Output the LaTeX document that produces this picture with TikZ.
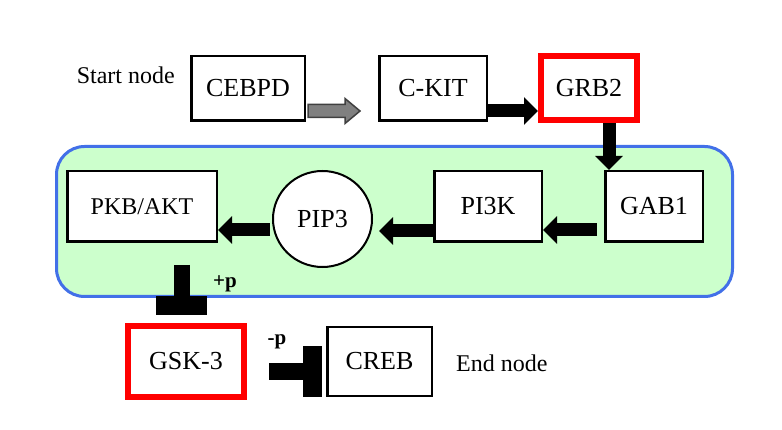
\documentclass[tikz,border=0pt]{standalone}
\usepackage{fontspec}
\setmainfont{Liberation Serif}
\usetikzlibrary{arrows.meta,positioning,calc,shapes.geometric}

\definecolor{cellgreen}{RGB}{204,255,204}
\definecolor{cellblue}{RGB}{66,112,232}

\begin{document}
\begin{tikzpicture}[
  x=1pt,y=-1pt,
  font=\fontsize{26}{30}\selectfont,
  box/.style={draw,line width=2.5pt,fill=white,inner sep=0pt,align=center},
  keybox/.style={box,draw=red,line width=6pt},
  note/.style={inner sep=0pt,font=\fontsize{24}{28}\selectfont},
  plabel/.style={font=\fontsize{21}{24}\selectfont\bfseries},
  cell/.style={draw=cellblue,fill=cellgreen,line width=3pt,rounded corners=28pt},
  act/.style={line width=13pt,-{Triangle[length=14pt,width=27pt]}},
  inhib/.style={line width=16pt,-{Rectangle[length=19pt,width=51pt]}},
  grayarrow/.style={draw=black!75,fill=black!50,line width=1.5pt,line join=miter}
]
\useasboundingbox (0,0) rectangle (782,430);
\draw[cell] (56.5,146.5) rectangle (732.5,296.5);
% top row
\node[box,minimum width=113.5pt,minimum height=64.5pt] (cebpd) at (248,88.5) {CEBPD};
\node[box,minimum width=107.5pt,minimum height=64.5pt,right=72pt of cebpd] (ckit) {C-KIT};
\node[keybox,minimum width=96pt,minimum height=64pt,right=50pt of ckit] (grb) {GRB2};
\node[note,left=15pt of cebpd,yshift=13.5pt] (start) {Start node};
% inside the cell
\node[box,minimum width=97.5pt,minimum height=70.5pt] (gab) at (654,206.5) {GAB1};
\node[box,minimum width=107.5pt,minimum height=70.5pt,left=61pt of gab] (pi3k) {PI3K};
\node[box,ellipse,line width=2pt,minimum width=99pt,minimum height=96pt] (pip3) at (322.5,219) {PIP3};
\node[box,minimum width=149.5pt,minimum height=70.5pt,font=\fontsize{24}{28}\selectfont] (pkb) at (142,206.5) {PKB/AKT};
% bottom row
\node[keybox,minimum width=116pt,minimum height=71pt] (gsk) at (186,361.5) {GSK-3};
\node[box,minimum width=104.5pt,minimum height=68.5pt,right=79pt of gsk] (creb) {CREB};
\node[note,right=23pt of creb,yshift=-2pt] (endn) {End node};
\node[plabel] (plus) at (225,284) {+p};
\node[plabel] (minus) at (277,342) {-p};
% connectors
\draw[grayarrow] ($(cebpd.east)+(2,16)$) -- ++(37,0) -- ++(0,-6) -- ++(15,12.5)
  -- ++(-15,12.5) -- ++(0,-6) -- ++(-37,0) -- cycle;
\draw[act] ($(ckit.east)+(0,22.5)$) -- ($(grb.west)+(0,22.5)$);
\draw[act] ($(grb.south)+(20,0)$) -- ($(gab.north)+(-45,0)$);
\draw[act] ($(gab.west)+(-7,23.5)$) -- ($(pi3k.east)+(0,23.5)$);
\draw[act] ($(pi3k.west)+(0,24.5)$) -- ($(pip3.east)+(6,12)$);
\draw[act] ($(pip3.west)+(-2,11)$) -- ($(pkb.east)+(0,23.5)$);
\draw[inhib] ($(pkb.south)+(39.5,22)$) -- ($(gsk.north)+(-4.5,-8)$);
\draw[inhib] ($(gsk.east)+(22,10)$) -- ($(creb.west)+(-4,10)$);
\end{tikzpicture}
\end{document}
